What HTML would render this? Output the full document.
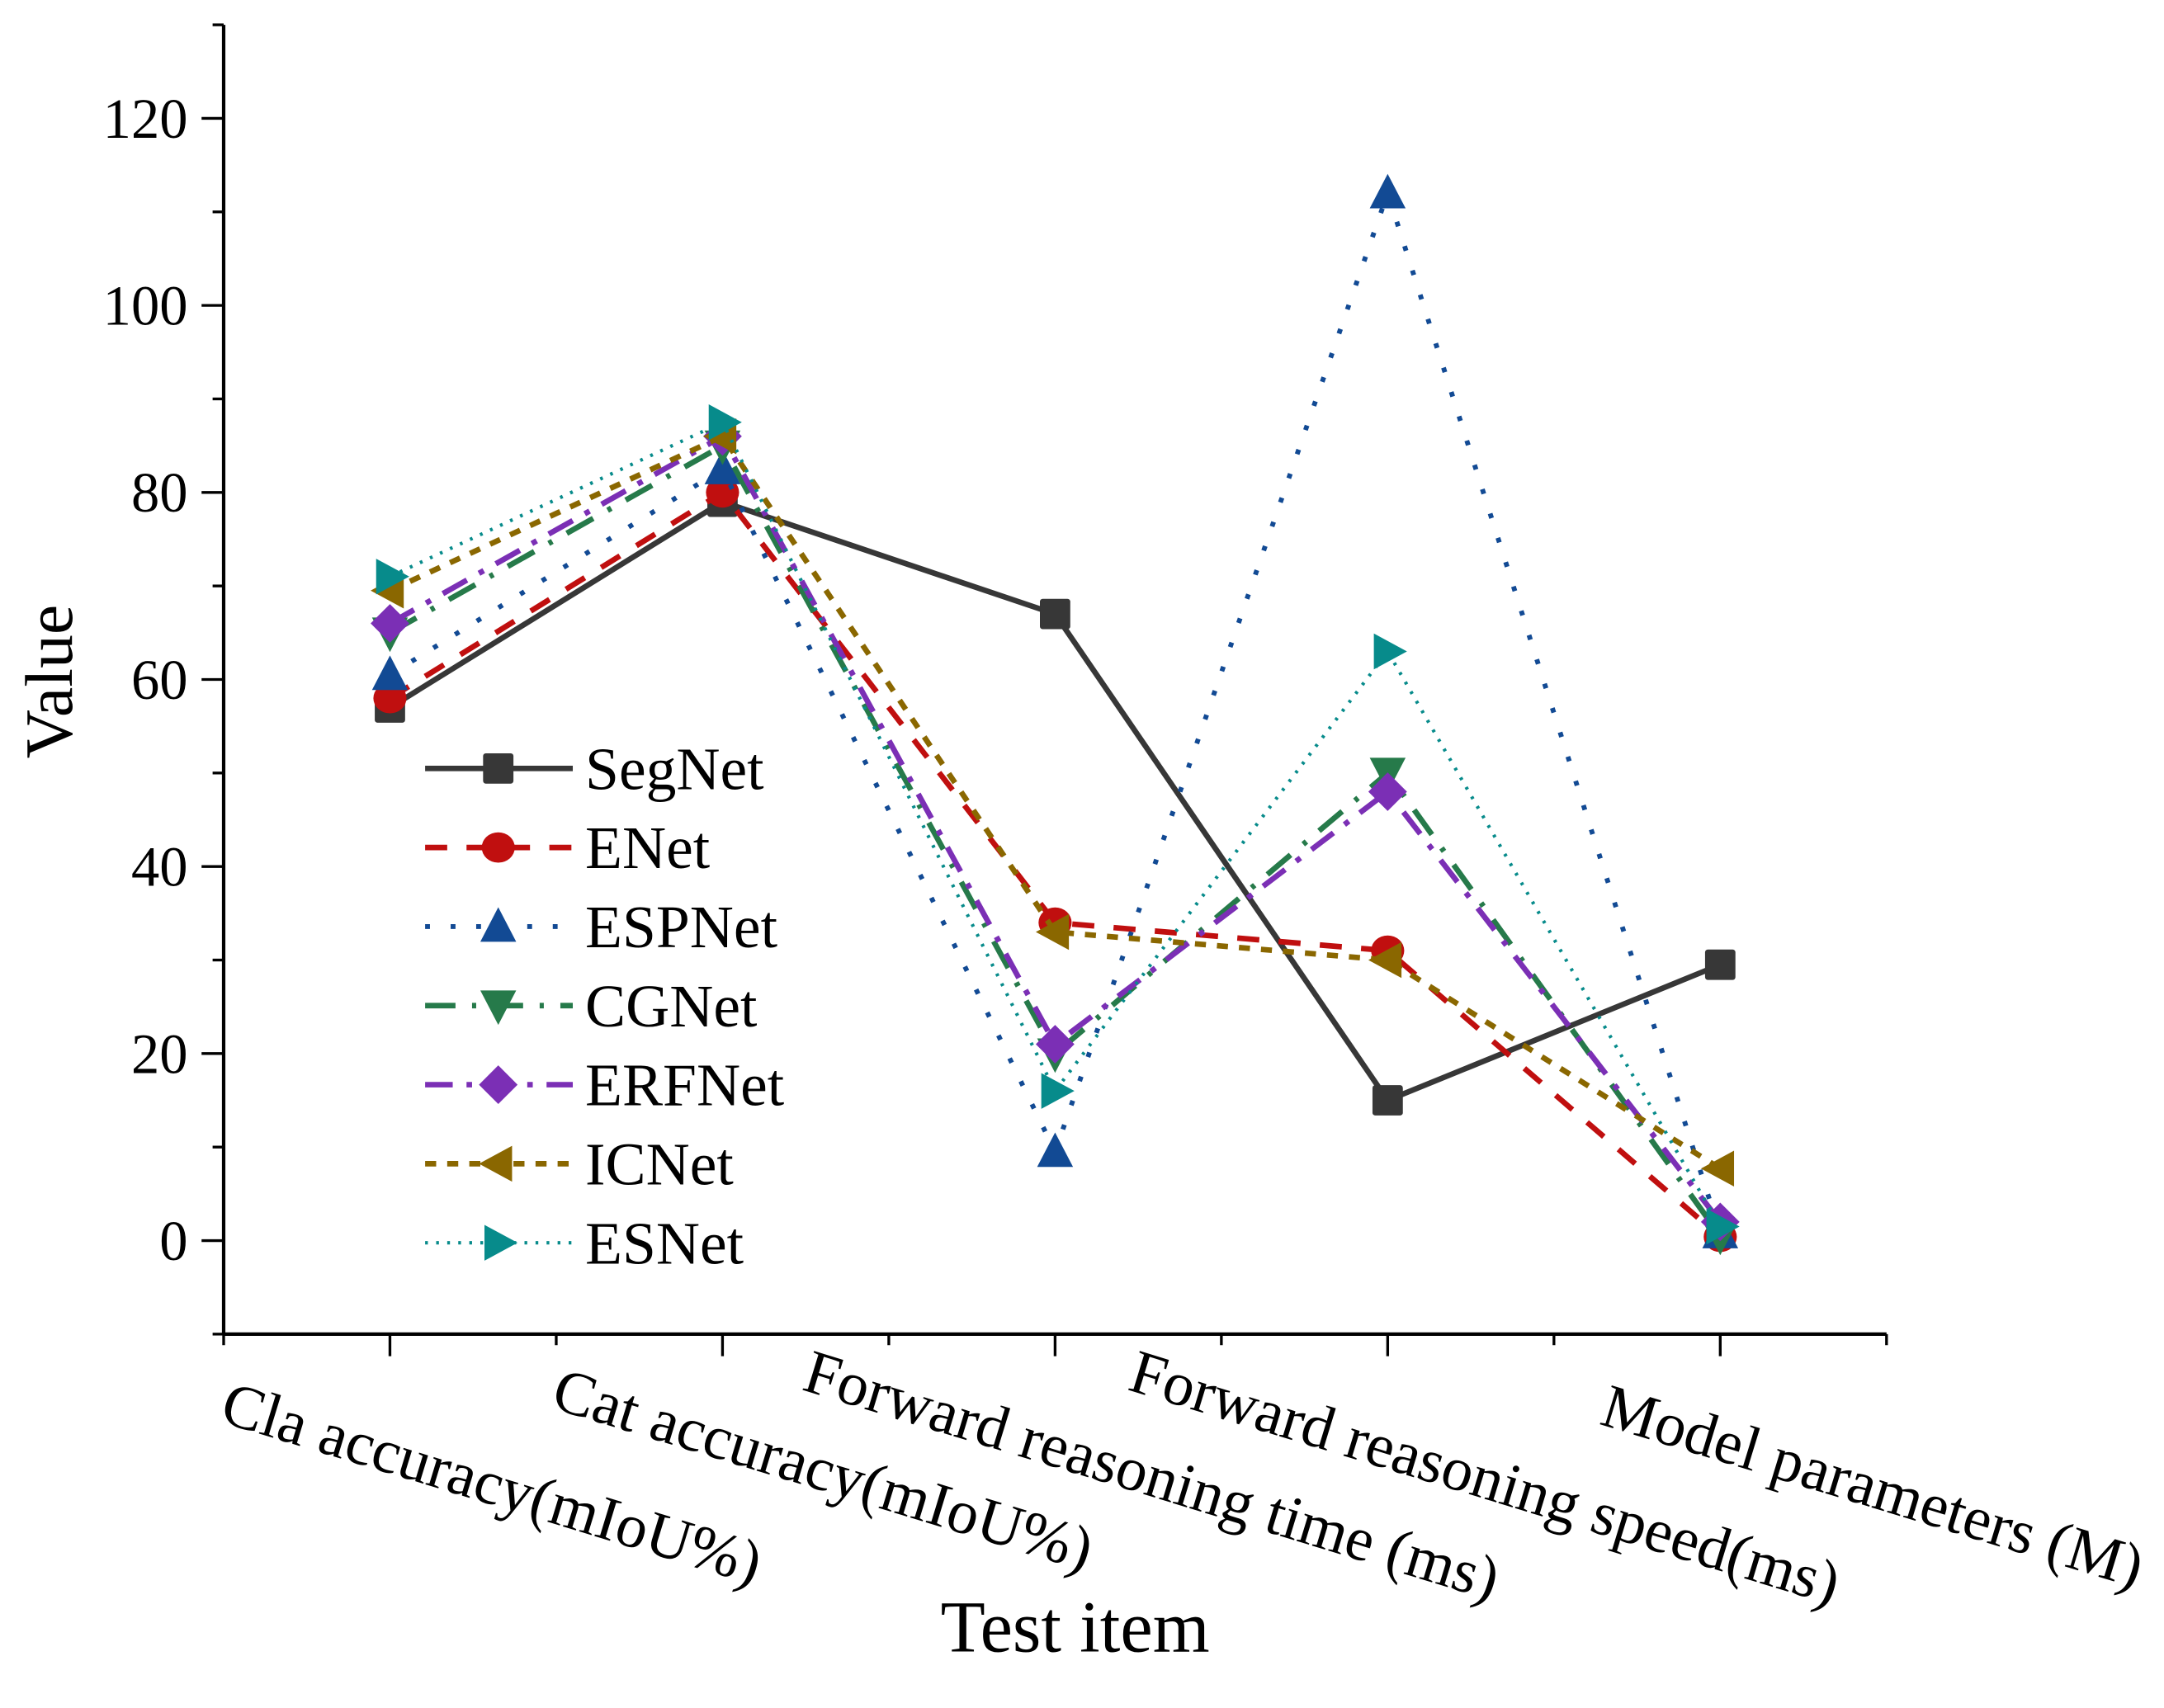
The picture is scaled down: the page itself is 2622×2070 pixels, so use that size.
<!DOCTYPE html>
<html><head><meta charset="utf-8"><style>html,body{margin:0;padding:0;background:#fff}svg{display:block}</style></head>
<body>
<svg id="chart" width="2622" height="2070" viewBox="0 0 1568 1238" xmlns="http://www.w3.org/2000/svg" font-family="'Liberation Serif', serif">
<g id="axes"></g>
<g id="series"></g>
<g id="legend"></g>
</svg>
<script>
const categories = ["Cla accuracy(mIoU%)","Cat accuracy(mIoU%)","Forward reasoning time (ms)","Forward reasoning speed(ms)","Model parameters (M)"];
const seriesNames = ["SegNet","ENet","ESPNet","CGNet","ERFNet","ICNet","ESNet"];
const segnet = [57,79,67,15,29.5];
const enet = [58,80,34,31,0.4];
const espnet = [60.5,82.5,9.5,112,0.8];
const cgnet = [65,85,20,50,0.5];
const erfnet = [66,86,21,48,2];
const icnet = [69.5,86,33,30,7.7];
const esnet = [71,87.5,16,63,1.5];
const yTicks = [0,20,40,60,80,100,120];
const yMin=-10, yMax=130;
const NS="http://www.w3.org/2000/svg";
const L=162,R=1367,T=18,B=967;
const xs=i=>L+(i+0.5)/5*(R-L);
const ys=v=>B-(v-yMin)/(yMax-yMin)*(B-T);
function mk(tag,attrs,parent,text){const e=document.createElementNS(NS,tag);for(const k in attrs)e.setAttribute(k,attrs[k]);if(text!==undefined)e.textContent=text;parent.appendChild(e);return e;}
const axes=document.getElementById('axes');
let a=mk('line',{x1:L,y1:T,x2:L,y2:B,stroke:'#000','stroke-width':2.5},axes);

a=mk('line',{x1:L,y1:B,x2:R,y2:B,stroke:'#000','stroke-width':2.5},axes);

for(let v=-10;v<=130;v+=10){const major=yTicks.includes(v);mk('line',{x1:L-(major?16:8),y1:ys(v),x2:L,y2:ys(v),stroke:'#000','stroke-width':2},axes);}
yTicks.forEach(v=>{const t=mk('text',{x:L-26,y:ys(v)+14,'text-anchor':'end','font-size':41},axes,String(v));
});
for(let i=0;i<=10;i++){const x=L+i/10*(R-L);const major=i%2===1;mk('line',{x1:x,y1:B,x2:x,y2:B+(major?16:8),stroke:'#000','stroke-width':2},axes);}
const labStart=[[158,1030],[398,1020],[580,1007],[816,1007],[1158,1032]];
categories.forEach((c,i)=>{const [x,y]=labStart[i];const t=mk('text',{x:x,y:y,'font-size':45,transform:`rotate(17 ${x} ${y})`},axes,c);
});
let t=mk('text',{x:52,y:494,'font-size':49,'text-anchor':'middle',transform:'rotate(-90 52 494)'},axes,'Value');

t=mk('text',{x:779,y:1197,'font-size':53,'text-anchor':'middle'},axes,'Test item');


const styles=[
 {c:'#373737',d:'',w:4,m:'square'},
 {c:'#c00f0f',d:'16 14',w:4,m:'circle'},
 {c:'#124a94',d:'3.5 15',w:3.5,m:'up'},
 {c:'#267a4a',d:'22 12 3 12',w:4,m:'down'},
 {c:'#7b2fb5',d:'20 10 4 10',w:4,m:'diamond'},
 {c:'#8a6700',d:'8 8',w:4,m:'left'},
 {c:'#078b8b',d:'2 6',w:2.5,m:'right'}];
const data=[segnet,enet,espnet,cgnet,erfnet,icnet,esnet];
function marker(g,type,x,y,col){const s=11;let e;
 if(type==='square')e=mk('rect',{x:x-s,y:y-s,width:2*s,height:2*s,rx:2,fill:col},g);
 else if(type==='circle')e=mk('ellipse',{cx:x,cy:y,rx:s+1,ry:s,fill:col},g);
 else{let p;
  if(type==='up')p=[[x,y-s-3],[x+s+2,y+s],[x-s-2,y+s]];
  if(type==='down')p=[[x,y+s+3],[x+s+2,y-s],[x-s-2,y-s]];
  if(type==='diamond')p=[[x,y-s-3],[x+s+3,y],[x,y+s+3],[x-s-3,y]];
  if(type==='left')p=[[x-s-3,y],[x+s-1,y-s-2],[x+s-1,y+s+2]];
  if(type==='right')p=[[x+s+3,y],[x-s+1,y-s-2],[x-s+1,y+s+2]];
  e=mk('polygon',{points:p.map(q=>q.join(',')).join(' '),fill:col},g);}
 return e;}
const sg=document.getElementById('series');
data.forEach((arr,k)=>{const st=styles[k];
 const g=mk('g',{},sg);
 
 
 const ln=mk('polyline',{points:arr.map((v,i)=>xs(i)+','+ys(v)).join(' '),fill:'none',stroke:st.c,'stroke-width':st.w,'stroke-dasharray':st.d},g);
 
 
 arr.forEach((v,i)=>{const m=marker(g,st.m,xs(i),ys(v),st.c);
  
  });
});
const lg=document.getElementById('legend');
seriesNames.forEach((n,k)=>{const st=styles[k];const y=557+k*57.3;
 const g=mk('g',{},lg);
 
 
 mk('line',{x1:308,y1:y,x2:415,y2:y,stroke:st.c,'stroke-width':st.w,'stroke-dasharray':st.d},g);
 marker(g,st.m,361,y,st.c);
 mk('text',{x:424,y:y+15,'font-size':44},g,n);
});
</script>
</body></html>
